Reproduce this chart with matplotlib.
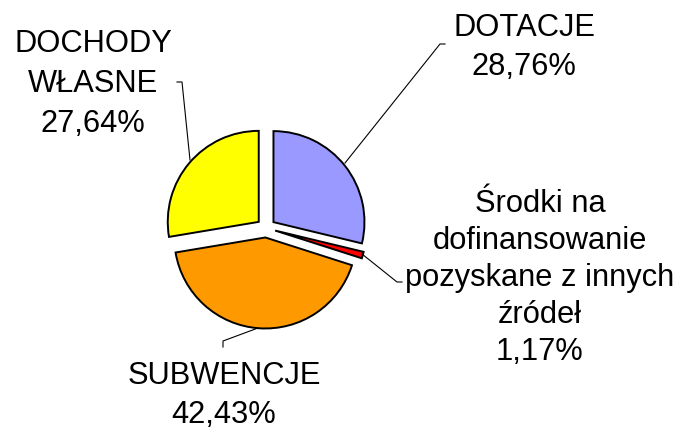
import matplotlib
matplotlib.use("Agg")
import matplotlib.pyplot as plt

# Data
categories = ["DOTACJE", "Środki na dofinansowanie pozyskane z innych źródeł",
              "SUBWENCJE", "DOCHODY WŁASNE"]
values = [28.76, 1.17, 42.43, 27.64]
value_labels = ["28,76%", "1,17%", "42,43%", "27,64%"]
label_lines = [["DOTACJE"],
               ["Środki na", "dofinansowanie", "pozyskane z innych", "źródeł"],
               ["SUBWENCJE"],
               ["DOCHODY", "WŁASNE"]]
colors = ["#9999FF", "#FF0000", "#FF9900", "#FFFF00"]

W, H = 679, 429
fig = plt.figure(figsize=(W / 100, H / 100), dpi=100)
ax = fig.add_axes([0, 0, 1, 1])

def Y(y):
    return H - y

ax.pie(values, colors=colors, startangle=90, counterclock=False,
       center=(266, Y(228)), radius=91, explode=[9.5] * 4,
       wedgeprops=dict(edgecolor="black", linewidth=1.4))

ax.set_xlim(0, W)
ax.set_ylim(0, H)
ax.set_aspect("equal")
ax.axis("off")

FS = 22.2
font = "Liberation Sans"

def block(lines, cx, first_baseline, spacing):
    for i, t in enumerate(lines):
        ax.text(cx, Y(first_baseline + i * spacing), t, ha="center",
                va="baseline", fontsize=FS, family=font, color="black")

# label positions (pixel layout)
block(label_lines[0] + [value_labels[0]], 524, 36, 39)
block(label_lines[1] + [value_labels[1]], 540, 212, 37)
block(label_lines[2] + [value_labels[2]], 224, 384, 39)
block(label_lines[3] + [value_labels[3]], 93, 52, 40)

# leader lines
def leader(pts):
    xs = [p[0] for p in pts]
    ys = [Y(p[1]) for p in pts]
    ax.plot(xs, ys, color="black", linewidth=0.8)

leader([(445, 44), (440, 44), (345, 163)])
leader([(362, 254), (397, 282), (402, 282)])
leader([(223, 347), (223, 341), (258, 328)])
leader([(177, 82), (182, 82), (190, 160)])

fig.savefig("out.png", dpi=100)
